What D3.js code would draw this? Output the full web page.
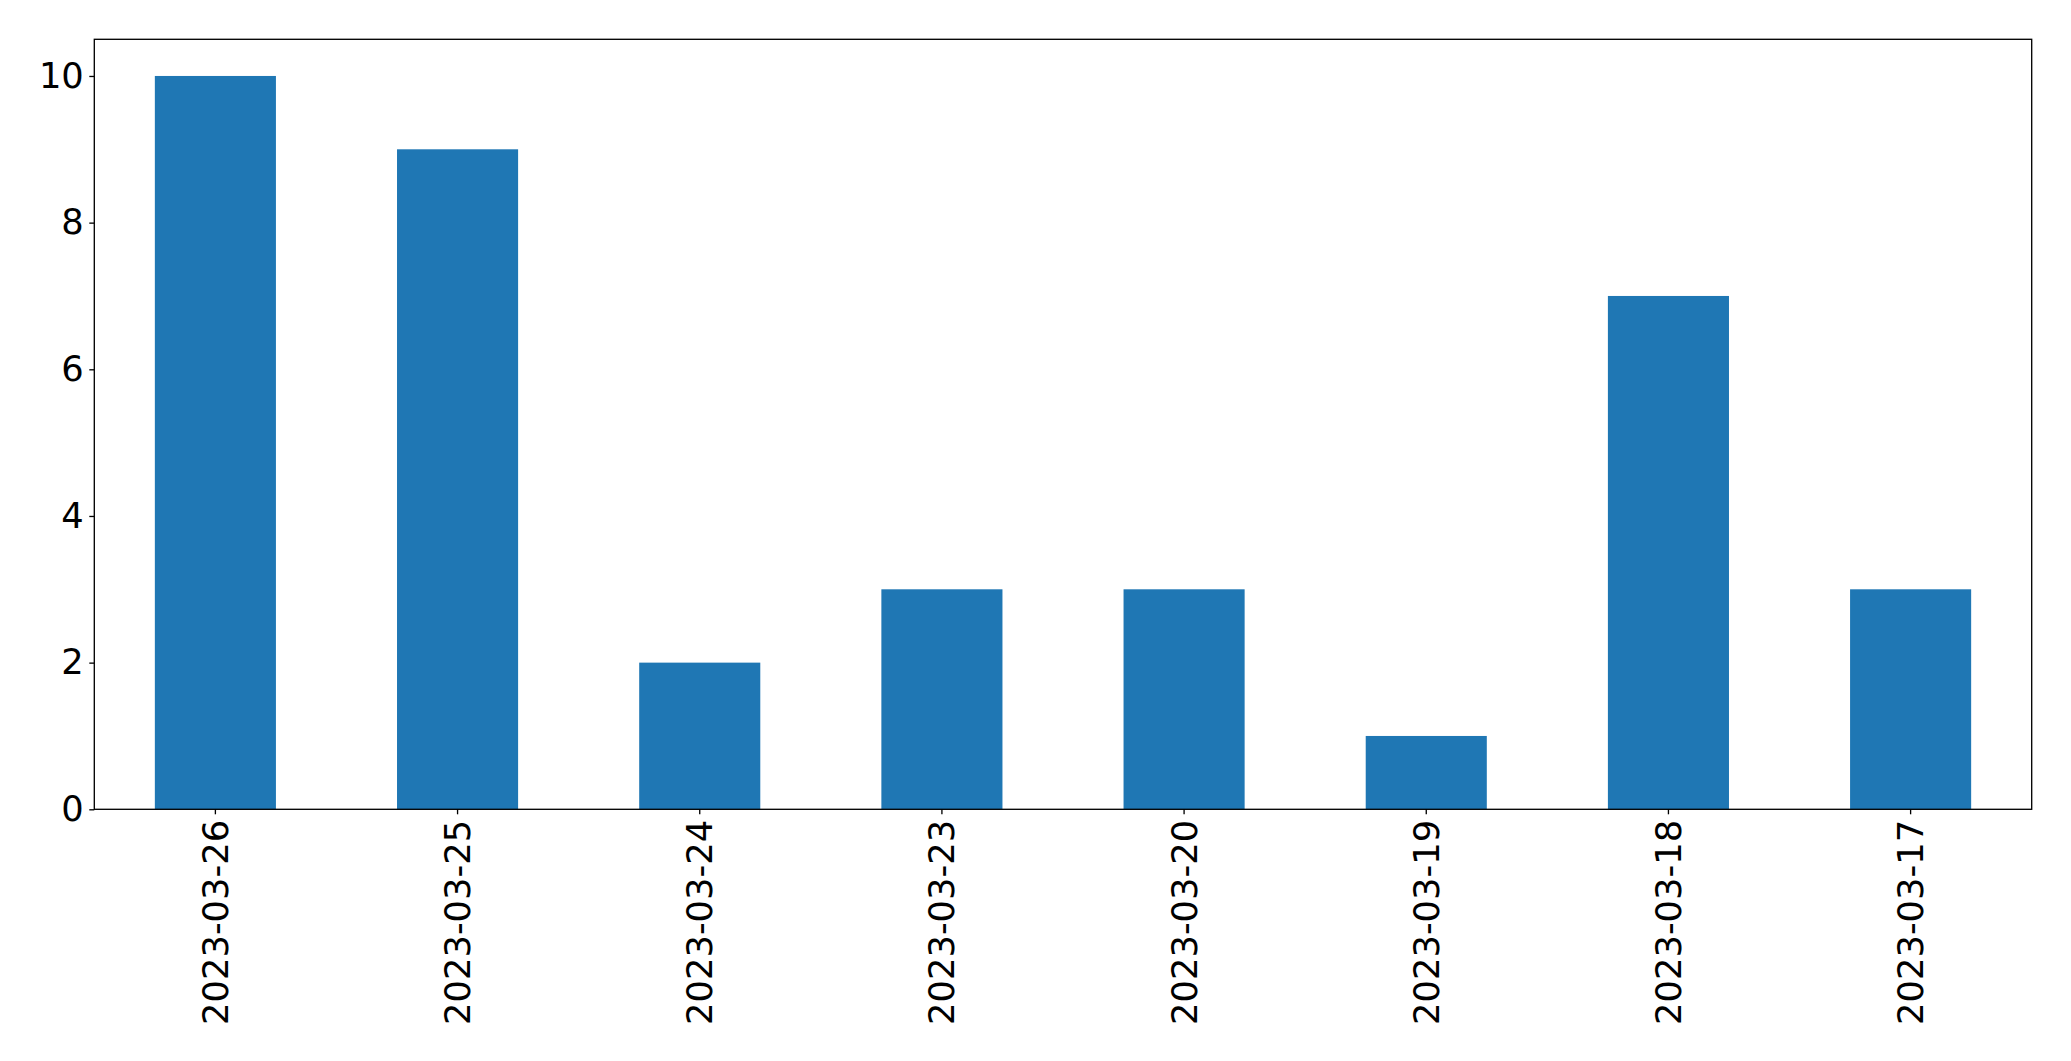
<!DOCTYPE html>
<html>
<head>
<meta charset="utf-8">
<script src="https://cdn.jsdelivr.net/npm/d3@7"></script>
<style>
  html, body { margin: 0; padding: 0; background: #fff; }
  svg { display: block; }
  text { font-family: "DejaVu Sans", sans-serif; }
</style>
</head>
<body>
<svg id="chart" width="2071" height="1061"></svg>
<script>
const categories = ["2023-03-26", "2023-03-25", "2023-03-24", "2023-03-23", "2023-03-20", "2023-03-19", "2023-03-18", "2023-03-17"];
const values = [10, 9, 2, 3, 3, 1, 7, 3];
const yTicks = [0, 2, 4, 6, 8, 10];

const W = 2071, H = 1061;
const margin = { left: 94.3, top: 39.3, right: W - 2031.7, bottom: H - 809.3 };
const svg = d3.select("#chart");
const iw = W - margin.left - margin.right;
const ih = H - margin.top - margin.bottom;

const g = svg.append("g").attr("transform", `translate(${margin.left},${margin.top})`);

const x = d3.scaleBand().domain(categories).range([0, iw]).paddingInner(0.5).paddingOuter(0.25);
const y = d3.scaleLinear().domain([0, 10.5]).range([ih, 0]);

g.selectAll("rect.bar").data(categories).enter().append("rect")
  .attr("class", "bar")
  .attr("x", d => x(d))
  .attr("width", x.bandwidth())
  .attr("y", (d, i) => y(values[i]))
  .attr("height", (d, i) => y(0) - y(values[i]))
  .attr("fill", "#1f77b4");

const fs = 35.3;
const tickLen = 5;
const pad = 5.5;
const lw = 1.33;

const yAxis = g.append("g").call(d3.axisLeft(y).tickValues(yTicks).tickSize(tickLen).tickPadding(pad).tickFormat(d3.format("d")));
yAxis.select(".domain").remove();
yAxis.selectAll("line").attr("stroke", "#000").attr("stroke-width", lw);
yAxis.selectAll("text").attr("font-size", fs).attr("fill", "#000").attr("font-family", "DejaVu Sans");

const xAxis = g.append("g").attr("transform", `translate(0,${ih})`)
  .call(d3.axisBottom(x).tickSize(tickLen).tickPadding(pad));
xAxis.select(".domain").remove();
xAxis.selectAll("line").attr("stroke", "#000").attr("stroke-width", lw);
xAxis.selectAll("text")
  .attr("font-size", fs).attr("fill", "#000").attr("font-family", "DejaVu Sans")
  .attr("y", 0).attr("dy", null)
  .attr("text-anchor", "end")
  .attr("dominant-baseline", "central")
  .attr("transform", `translate(0,${tickLen + pad}) rotate(-90)`);

g.append("rect").attr("x", 0).attr("y", 0).attr("width", iw).attr("height", ih)
  .attr("fill", "none").attr("stroke", "#000").attr("stroke-width", lw);
</script>
</body>
</html>
